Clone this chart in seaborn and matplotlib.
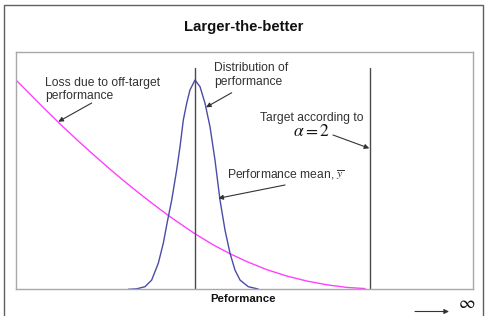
import matplotlib
matplotlib.use("Agg")
import matplotlib.pyplot as plt
import seaborn as sns
import pandas as pd
from matplotlib.patches import Rectangle, FancyArrowPatch

sns.set_theme(style="white")
plt.rcParams["font.family"] = ["Liberation Sans", "DejaVu Sans"]

# ---- data (x in 0..100 performance units, y in 0..1) ----
dist_x = [24.57, 26.41, 28.23, 29.69, 31.14, 32.23, 33.19, 34.07, 35.16, 35.89, 36.61, 37.35, 38.07,
          39.17, 40.26, 41.36, 42.45, 43.54, 44.64, 45.73, 46.83, 47.92, 49.02, 50.83, 53.02]
dist_y = [0.000, 0.002, 0.011, 0.039, 0.110, 0.194, 0.292, 0.376, 0.503, 0.601, 0.713, 0.784, 0.840,
          0.882, 0.854, 0.784, 0.685, 0.545, 0.376, 0.250, 0.152, 0.081, 0.039, 0.011, 0.001]

loss_x = [0.0, 5.97, 9.63, 13.28, 16.91, 20.57, 24.22, 27.86, 31.51, 33.70, 38.07, 39.17,
          43.17, 46.83, 50.48, 54.86, 59.23, 63.61, 67.99, 72.36, 76.37]
loss_y = [0.882, 0.766, 0.697, 0.631, 0.568, 0.506, 0.447, 0.391, 0.337, 0.306, 0.248, 0.234,
          0.187, 0.150, 0.117, 0.083, 0.056, 0.035, 0.019, 0.008, 0.003]

mean_x = 39.2
target_x = 77.5
vline_top = 0.932

title = "Larger-the-better"
xlabel = "Peformance"

W, H = 486, 316
fig = plt.figure(figsize=(W / 100, H / 100), dpi=100)
fig.patch.set_facecolor("white")

def fx(px):
    return px / W

def fy(py):
    return 1 - py / H

# outer chart frame
fig.patches.append(Rectangle((fx(4), fy(330)), fx(483) - fx(4), fy(5) - fy(330),
                             transform=fig.transFigure, fill=False,
                             edgecolor="#606060", lw=1.0))

ax = fig.add_axes([fx(16), fy(289.3), fx(473) - fx(16), fy(52) - fy(289.3)])
ax.set_facecolor("white")

df_dist = pd.DataFrame({"x": dist_x, "y": dist_y})
df_loss = pd.DataFrame({"x": loss_x, "y": loss_y})
sns.lineplot(data=df_loss, x="x", y="y", ax=ax, color="#ff40ff", lw=1.0, sort=False)
sns.lineplot(data=df_dist, x="x", y="y", ax=ax, color="#4b4ba8", lw=1.0, sort=False)
ax.plot([mean_x, mean_x], [0, vline_top], color="#4a4a4a", lw=1.0)
ax.plot([target_x, target_x], [0, vline_top], color="#4a4a4a", lw=1.0)

ax.set_xlim(0, 100)
ax.set_ylim(0, 1)
ax.set_xticks([])
ax.set_yticks([])
ax.set_xlabel("")
ax.set_ylabel("")
for s in ax.spines.values():
    s.set_color("#a8a8a8")
    s.set_linewidth(1.0)

fig.text(fx(243.5), fy(27.5), title, ha="center", va="center", fontsize=10.7, fontweight="bold", color="#111111")
fig.text(fx(243), fy(299), xlabel, ha="center", va="center", fontsize=8.2, fontweight="bold", color="#111111")

aprops = dict(arrowstyle="-|>", color="#333333", lw=0.8, mutation_scale=7, shrinkA=0, shrinkB=0)
tc = "#333333"
fs = 8.7

fig.text(fx(45), fy(89.7), "Loss due to off-target\nperformance", ha="left", va="center",
         fontsize=fs, color=tc, linespacing=1.15)
fig.add_artist(FancyArrowPatch((fx(91.7), fy(103)), (fx(58.3), fy(121.7)),
                               transform=fig.transFigure, **aprops))

fig.text(fx(214), fy(75), "Distribution of\nperformance", ha="left", va="center",
         fontsize=fs, color=tc, linespacing=1.15)
fig.add_artist(FancyArrowPatch((fx(231.7), fy(92.7)), (fx(206), fy(107.3)),
                               transform=fig.transFigure, **aprops))

fig.text(fx(260), fy(117.7), "Target according to", ha="left", va="center", fontsize=fs, color=tc)
fig.text(fx(311.5), fy(131.5), r"$\alpha = 2$", ha="center", va="center", fontsize=12.5,
         color="#111111", math_fontfamily="stix")
fig.add_artist(FancyArrowPatch((fx(333), fy(135)), (fx(369.3), fy(148.3)),
                               transform=fig.transFigure, **aprops))

fig.text(fx(226.7), fy(175), r"Performance mean, $\overline{y}$", ha="left", va="center",
         fontsize=fs, color=tc, math_fontfamily="stix")
fig.add_artist(FancyArrowPatch((fx(285), fy(185)), (fx(218.3), fy(198.3)),
                               transform=fig.transFigure, **aprops))

fig.add_artist(FancyArrowPatch((fx(415), fy(311.5)), (fx(449), fy(311.5)),
                               transform=fig.transFigure, **aprops))
fig.text(fx(467), fy(303), r"$\infty$", ha="center", va="center", fontsize=13, color="#111111",
         math_fontfamily="stix")

fig.savefig("out.png", dpi=100)
